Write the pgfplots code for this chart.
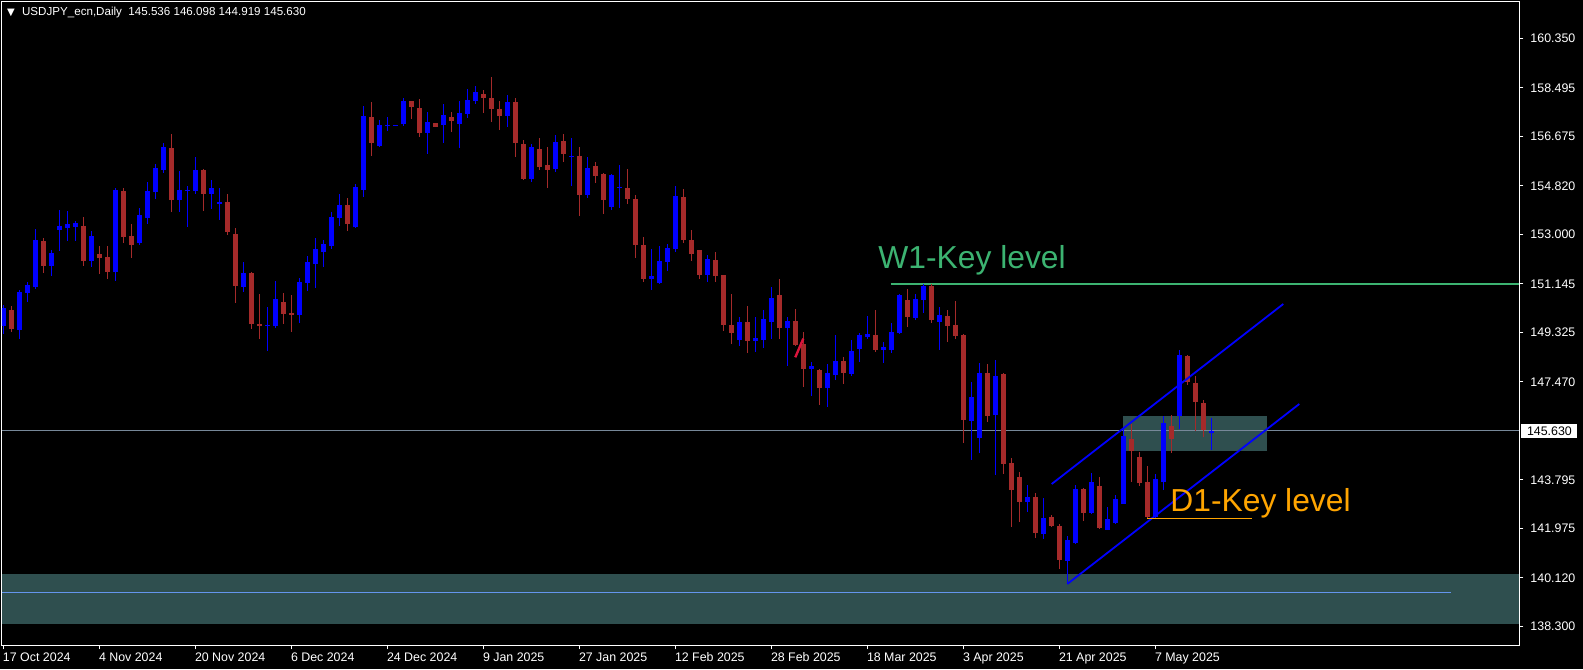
\documentclass[border=0pt]{standalone}
\usepackage{fontspec}
\setmainfont{Liberation Sans}
\newfontfamily\dejavu{DejaVu Sans}
\usepackage{pgfplots}
\usepackage{pgfplotstable}
\pgfplotsset{compat=1.18}

\definecolor{upc}{RGB}{0,0,255}
\definecolor{dnc}{RGB}{165,42,42}
\definecolor{zone}{RGB}{47,79,79}
\definecolor{wone}{RGB}{60,179,113}
\definecolor{done}{RGB}{255,165,0}
\definecolor{bidline}{RGB}{119,136,153}
\definecolor{thinl}{RGB}{100,149,237}
\definecolor{scrib}{RGB}{220,20,60}

% daily candles, i = bar index (0 = 17 Oct 2024)
\pgfplotstableread{
i o h l c
0 149.576 150.351 149.263 150.238
2 149.413 150.914 149.076 150.839
3 150.801 151.214 150.476 151.101
4 151.039 153.201 150.964 152.789
6 151.826 152.414 151.451 152.289
7 153.176 153.914 152.389 153.314
8 153.251 153.876 152.764 153.389
9 153.276 153.501 152.764 153.426
11 152.001 153.126 151.789 152.939
14 151.589 154.739 151.264 154.664
17 152.676 153.989 152.601 153.726
18 153.626 154.964 153.389 154.627
19 154.602 155.639 154.327 155.489
20 155.427 156.414 155.302 156.277
22 154.302 155.377 153.851 154.664
23 154.639 154.814 153.289 154.680
24 154.627 155.902 154.527 155.414
26 154.514 155.039 153.951 154.739
27 154.164 154.739 153.539 154.202
30 151.039 151.964 150.839 151.551
33 149.576 150.276 148.626 149.610
34 149.563 151.251 149.488 150.576
37 149.976 151.364 149.676 151.213
38 151.176 152.189 150.876 151.964
39 151.889 152.864 150.989 152.451
40 152.339 152.789 151.776 152.639
41 152.564 153.839 152.451 153.651
42 153.614 154.514 153.314 154.102
44 153.276 154.889 153.250 154.777
45 154.664 157.815 154.402 157.440
47 156.314 157.290 156.277 157.102
48 157.077 157.402 156.877 157.102
49 157.080 157.110 157.070 157.100
50 157.152 158.102 157.077 158.002
53 156.802 157.590 156.027 157.215
55 157.102 157.890 156.427 157.477
57 157.152 158.002 156.239 157.552
58 157.527 158.452 157.377 158.040
59 158.002 158.565 157.890 158.340
63 157.440 158.227 157.027 157.965
66 155.077 156.389 154.964 156.277
69 155.452 156.727 155.339 156.464
71 155.914 156.614 154.814 155.952
73 154.477 155.902 154.364 155.489
76 154.026 155.250 153.926 155.227
77 154.752 155.600 154.001 154.777
81 151.326 152.451 150.913 151.439
82 151.176 152.564 151.150 152.001
83 151.964 152.639 151.626 152.489
84 152.451 154.814 152.339 154.439
88 151.476 152.226 151.214 152.076
92 149.038 149.901 148.813 149.713
94 149.001 149.901 148.588 149.113
95 149.038 150.163 148.738 149.826
96 149.713 151.026 149.076 150.613
98 149.501 149.901 148.063 149.751
101 147.950 148.213 146.938 148.063
103 147.238 148.138 146.525 147.800
104 147.725 149.226 147.538 148.251
106 147.763 149.038 147.688 148.626
107 148.701 149.301 148.213 149.226
108 149.151 149.938 149.076 149.263
110 148.663 148.963 148.176 148.776
111 148.663 149.676 148.551 149.338
112 149.301 150.763 149.280 150.726
114 149.863 150.763 149.788 150.576
115 150.538 151.139 150.051 151.063
117 149.713 150.276 148.663 149.976
121 146.000 147.463 144.537 146.900
122 145.375 148.176 144.800 147.800
124 146.225 148.288 143.975 147.688
128 142.962 143.600 142.587 143.150
130 141.762 143.112 141.574 142.362
133 140.749 141.687 139.887 141.537
134 141.424 143.600 141.400 143.450
136 142.550 144.050 142.512 143.712
138 141.912 142.775 141.900 142.325
139 142.175 143.225 142.137 143.075
140 142.887 145.738 142.870 145.438
144 142.400 144.012 142.362 143.825
145 143.712 146.188 143.412 145.925
147 146.188 148.663 145.700 148.476
151 145.536 146.098 144.919 145.630
}\up

\pgfplotstableread{
i o h l c
1 150.164 150.313 149.351 149.451
5 152.751 152.864 151.564 151.814
10 153.314 153.651 151.826 152.001
12 152.264 152.564 151.514 152.114
13 152.151 152.564 151.339 151.589
15 154.627 154.727 152.689 152.901
16 152.939 153.389 152.126 152.601
21 156.239 156.764 153.851 154.302
25 155.414 155.450 153.876 154.514
28 154.214 154.514 152.976 153.089
29 153.014 153.239 150.426 151.064
31 151.551 151.600 149.451 149.638
32 149.638 150.763 149.076 149.588
35 150.463 150.801 149.638 150.013
36 150.038 150.726 149.338 150.001
43 154.102 154.364 153.126 153.389
46 157.402 157.965 155.939 156.427
51 158.002 158.020 157.327 157.777
52 157.740 158.077 156.652 156.802
54 157.177 157.190 157.010 157.027
56 157.402 157.590 156.839 157.252
60 158.265 158.415 157.552 158.115
61 158.115 158.902 157.215 157.702
62 157.702 158.002 156.914 157.440
64 157.965 158.115 155.902 156.427
65 156.389 156.539 155.039 155.077
67 156.202 156.614 155.414 155.527
68 155.602 156.277 154.739 155.414
70 156.502 156.764 155.714 156.014
72 155.939 156.277 153.689 154.477
74 155.550 155.700 154.939 155.202
75 155.264 155.300 153.776 154.289
78 154.739 155.450 154.152 154.327
79 154.327 154.477 152.114 152.601
80 152.601 152.901 151.214 151.326
85 154.402 154.702 152.676 152.789
86 152.789 153.164 152.001 152.264
87 152.414 152.430 151.326 151.476
89 152.039 152.339 151.214 151.439
90 151.476 151.490 149.376 149.601
91 149.601 150.764 148.888 149.301
93 149.713 150.313 148.551 149.001
97 150.726 151.326 149.076 149.488
99 149.751 150.201 148.800 148.851
100 148.888 149.338 147.275 147.950
102 147.913 147.950 146.600 147.238
105 148.251 148.401 147.388 147.800
109 149.226 150.163 148.588 148.663
113 150.538 150.951 149.526 149.901
116 151.063 151.139 149.676 149.788
118 149.938 150.163 148.963 149.563
119 149.601 150.501 149.076 149.188
120 149.226 149.263 145.175 146.038
123 147.800 148.138 145.963 146.188
125 147.763 147.800 144.012 144.387
126 144.425 144.612 142.025 143.412
127 143.900 144.087 142.212 142.962
129 143.150 143.300 141.612 141.800
131 142.400 142.475 142.040 142.062
132 142.062 142.137 140.449 140.787
135 143.450 143.470 142.250 142.550
137 143.562 143.900 141.950 141.987
141 145.325 145.888 143.712 144.875
142 144.650 144.838 143.562 143.675
143 143.712 144.312 142.325 142.400
146 145.813 146.225 144.800 145.325
148 148.438 148.476 147.350 147.463
149 147.425 147.688 145.625 146.713
150 146.675 146.788 145.400 145.663
}\dn

\begin{document}
\begin{tikzpicture}
% chart window background
\fill[black] (-1pt,-12pt) rectangle (790.5pt,322.5pt);

\begin{axis}[
  scale only axis,
  width=758.5pt, height=321.5pt,
  xmin=-0.2, xmax=189.425,
  ymin=137.599, ymax=161.715,
  axis line style={white, line width=0.5pt},
  tick align=outside,
  major tick length=2.2pt,
  every tick/.style={white, line width=0.5pt},
  xtick pos=left, ytick pos=right,
  yticklabel pos=right,
  xtick={0,12,...,144},
  xticklabels={17 Oct 2024,4 Nov 2024,20 Nov 2024,6 Dec 2024,24 Dec 2024,9 Jan 2025,27 Jan 2025,12 Feb 2025,28 Feb 2025,18 Mar 2025,3 Apr 2025,21 Apr 2025,7 May 2025},
  ytick={138.3,140.12,141.975,143.795,147.47,149.325,151.145,153,154.82,156.675,158.495,160.35},
  scaled y ticks=false,
  tick label style={text=white, font=\fontsize{6.2}{7}\selectfont},
  xticklabel style={anchor=north west, xshift=-0.5pt, inner xsep=0pt, inner ysep=1.5pt},
  yticklabel style={/pgf/number format/fixed, /pgf/number format/fixed zerofill,
    /pgf/number format/precision=3, /pgf/number format/assume math mode=true},
]

% zones and levels (behind the candles)
\addplot[fill=zone, draw=none] coordinates {(-0.2,138.397) (189.425,138.397) (189.425,140.262) (-0.2,140.262)};
\addplot[thinl, line width=0.5pt] coordinates {(-0.2,139.576) (180.93,139.576)};
\addplot[fill=zone, draw=none] coordinates {(139.96,144.886) (157.9,144.886) (157.9,146.188) (139.96,146.188)};
\addplot[bidline, line width=0.5pt] coordinates {(-0.2,145.63) (189.425,145.63)};
\addplot[wone, line width=1pt] coordinates {(110.89,151.145) (189.425,151.145)};

% wicks
\addplot[draw=none, mark=none, error bars/.cd, y dir=both, y explicit, error mark=none,
  error bar style={draw=upc, line width=0.5pt}]
  table[x=i, y expr={(\thisrow{h}+\thisrow{l})/2}, y error expr={(\thisrow{h}-\thisrow{l})/2}] {\up};
\addplot[draw=none, mark=none, error bars/.cd, y dir=both, y explicit, error mark=none,
  error bar style={draw=dnc, line width=0.5pt}]
  table[x=i, y expr={(\thisrow{h}+\thisrow{l})/2}, y error expr={(\thisrow{h}-\thisrow{l})/2}] {\dn};
% bodies
\addplot[draw=none, mark=none, error bars/.cd, y dir=both, y explicit, error mark=none,
  error bar style={draw=upc, line width=2.5pt}]
  table[x=i, y expr={(\thisrow{o}+\thisrow{c})/2}, y error expr={abs(\thisrow{c}-\thisrow{o})/2}] {\up};
\addplot[draw=none, mark=none, error bars/.cd, y dir=both, y explicit, error mark=none,
  error bar style={draw=dnc, line width=2.5pt}]
  table[x=i, y expr={(\thisrow{o}+\thisrow{c})/2}, y error expr={abs(\thisrow{c}-\thisrow{o})/2}] {\dn};

% channel, D1 level, scribble
\addplot[upc, line width=0.9pt] coordinates {(131.01,143.637) (159.96,150.388)};
\addplot[upc, line width=0.9pt] coordinates {(132.96,139.887) (161.96,146.638)};
\addplot[done, line width=0.8pt] coordinates {(142.96,142.336) (156.0,142.336)};
\addplot[scrib, line width=1.2pt] coordinates {(98.96,148.388) (99.96,149.088)};

\node[anchor=base west, inner sep=0pt, text=wone, font=\fontsize{15.9}{18}\selectfont]
  at (axis cs:109.3,151.727) {W1-Key level};
\node[anchor=base west, inner sep=0pt, text=done, font=\fontsize{15.9}{18}\selectfont]
  at (axis cs:145.8,142.599) {D1-Key level};

\coordinate (bid) at (axis cs:189.425,145.63);
\end{axis}

% bid price label on the price scale
\node[anchor=west, fill=white, text=black, inner sep=0pt, minimum width=28pt, minimum height=6.65pt,
  font=\fontsize{6.2}{7}\selectfont] at ([xshift=1pt]bid) {145.630};

% window title
\node[anchor=west, inner sep=0pt, text=white, font=\dejavu\fontsize{5}{6}\selectfont] at (2.35pt,316.15pt) {▼};
\node[anchor=west, inner sep=0pt, text=white, font=\fontsize{5.8}{7}\selectfont] at (9.85pt,316.15pt)
  {USDJPY\_ecn,Daily\ \ 145.536 146.098 144.919 145.630};

\pgfresetboundingbox
\path[use as bounding box] (-1pt,-12pt) rectangle (790.5pt,322.5pt);
\end{tikzpicture}
\end{document}
